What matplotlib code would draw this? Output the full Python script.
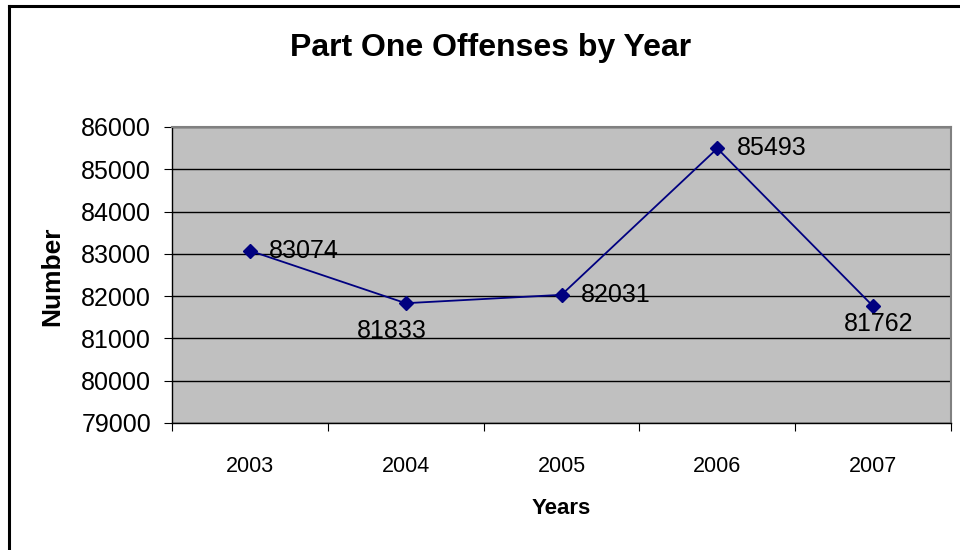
import matplotlib.pyplot as plt
from matplotlib.lines import Line2D

years = ['2003', '2004', '2005', '2006', '2007']
offenses = [83074, 81833, 82031, 85493, 81762]
# data label offsets (points) relative to each marker
label_dx = [14, -10, 14, 14, 4]
label_dy = [0, -20, 0, 0, -13]
y_ticks = [79000, 80000, 81000, 82000, 83000, 84000, 85000, 86000]

plt.rcParams['font.family'] = ['Liberation Sans', 'DejaVu Sans']

fig = plt.figure(figsize=(9.6, 5.5), dpi=100)
ax = fig.add_axes([172 / 960, 1 - 423 / 550, (951 - 172) / 960, (423 - 127) / 550])

# outer chart frame (only top and left edges are visible in the picture)
fig.add_artist(Line2D([9 / 960, 9 / 960], [0, 1 - 6 / 550], transform=fig.transFigure,
                      color='black', lw=2.2))
fig.add_artist(Line2D([9 / 960, 1], [1 - 6 / 550, 1 - 6 / 550], transform=fig.transFigure,
                      color='black', lw=2.2))

ax.set_facecolor('#C0C0C0')
x = list(range(1, len(years) + 1))
ax.set_xlim(0.5, len(years) + 0.5)
ax.set_ylim(y_ticks[0], y_ticks[-1])

ax.set_yticks(y_ticks)
ax.set_yticklabels([str(v) for v in y_ticks])
ax.grid(axis='y', color='black', lw=1.0)
ax.set_axisbelow(True)

# category boundaries get the tick marks, labels sit in between
ax.set_xticks([i + 0.5 for i in range(len(years) + 1)])
ax.set_xticklabels([])
ax.set_xticks(x, minor=True)
ax.set_xticklabels(years, minor=True, fontsize=15.5)
ax.tick_params(axis='x', which='major', direction='out', length=6, width=0.8, color='black')
ax.tick_params(axis='x', which='minor', length=0, pad=24)
ax.tick_params(axis='y', direction='out', length=6, width=0.8, labelsize=18, pad=9)

for side in ['top', 'right']:
    ax.spines[side].set_color('#808080')
    ax.spines[side].set_linewidth(1.5)
for side in ['left', 'bottom']:
    ax.spines[side].set_color('black')
    ax.spines[side].set_linewidth(1.0)

ax.plot(x, offenses, color='#000080', lw=1.3, marker='D', markersize=7)

for xi, v, dx, dy in zip(x, offenses, label_dx, label_dy):
    ha = 'left' if dy == 0 else 'center'
    ax.annotate(str(v), (xi, v), xytext=(dx, dy), textcoords='offset points',
                ha=ha, va='center', fontsize=18)

fig.text(491 / 960, 1 - 48 / 550, 'Part One Offenses by Year', ha='center', va='center',
         fontsize=23, fontweight='bold')
fig.text(561 / 960, 1 - 508 / 550, 'Years', ha='center', va='center', fontsize=16,
         fontweight='bold')
fig.text(52 / 960, 1 - 276 / 550, 'Number', ha='center', va='center', rotation=90,
         fontsize=19, fontweight='bold')

fig.savefig('out.png', dpi=100)
